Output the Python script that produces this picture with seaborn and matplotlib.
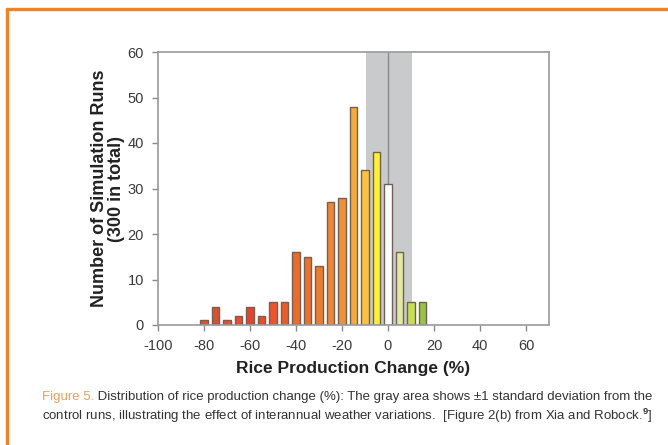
import pandas as pd
import matplotlib.pyplot as plt
import seaborn as sns
from matplotlib.lines import Line2D

# bin centres (%) and counts
change = [-80, -75, -70, -65, -60, -55, -50, -45, -40, -35, -30, -25,
          -20, -15, -10, -5, 0, 5, 10, 15]
runs = [1, 4, 1, 2, 4, 2, 5, 5, 16, 15, 13, 27, 28, 48, 34, 38, 31, 16, 5, 5]
bar_colors = ['#e4502c', '#dc4f2e', '#e84e2a', '#ee4c28', '#e8432a', '#f04a22',
              '#f0522a', '#f15a26', '#f06a25', '#f07028', '#f27a28', '#f38530',
              '#f59030', '#f9aa32', '#fcc23e', '#fff22a', '#ffffff', '#e2eaa0',
              '#c8e050', '#9cc242']
std_lo, std_hi = -9.5, 10.4
xticks = [-100, -80, -60, -40, -20, 0, 20, 40, 60]
yticks = [0, 10, 20, 30, 40, 50, 60]

sns.set_style('white')
plt.rcParams['font.family'] = ['Liberation Sans', 'DejaVu Sans']
plt.rcParams['axes.unicode_minus'] = False
plt.rcParams['xtick.bottom'] = True
plt.rcParams['ytick.left'] = True
plt.rcParams['mathtext.fontset'] = 'custom'
plt.rcParams['mathtext.rm'] = 'Liberation Sans'
plt.rcParams['mathtext.bf'] = 'Liberation Sans:bold'

df = pd.DataFrame({'change': change, 'runs': runs,
                   'bin': [str(c) for c in change]})
pal = dict(zip(df['bin'], bar_colors))

fig = plt.figure(figsize=(6.68, 4.45), dpi=100)
ax = fig.add_axes([158 / 668, 1 - 325 / 445, (549 - 158) / 668, (325 - 52) / 445])

ax.axvspan(std_lo, std_hi, color='#c9cacc', zorder=0, lw=0)
ax.axvline(0, color='#8a8a8a', lw=1, zorder=0.5)

sns.barplot(data=df, x='change', y='runs', hue='bin', palette=pal,
            native_scale=True, dodge=False, width=0.66, saturation=1,
            edgecolor='#6e6258', linewidth=1, legend=False, ax=ax, zorder=2)

ax.set_xlim(-100, 70)
ax.set_ylim(0, 60)
ax.set_xticks(xticks)
ax.set_yticks(yticks)
ax.tick_params(axis='both', direction='out', length=4, width=1,
               color='#8a8a8a', labelcolor='#3a3a3a', labelsize=10.5)
ax.tick_params(axis='x', bottom=True, pad=6)
ax.tick_params(axis='y', left=True, pad=6)
for s in ax.spines.values():
    s.set_color('#9a9a9a')
    s.set_linewidth(1.2)

ax.set_xlabel('Rice Production Change (%)', fontsize=12.5, fontweight='bold',
              color='#222222', labelpad=6)
ax.set_ylabel('Number of Simulation Runs\n(300 in total)', fontsize=13,
              fontweight='bold', color='#222222', labelpad=2, linespacing=1.0)

# orange frame
orange = '#f58220'
fig.add_artist(Line2D([7 / 668, 1], [1 - 9 / 445, 1 - 9 / 445],
                      transform=fig.transFigure, color=orange, lw=2.4))
fig.add_artist(Line2D([7 / 668, 7 / 668], [0, 1 - 9 / 445],
                      transform=fig.transFigure, color=orange, lw=2.4))

# caption
fs = 9.5
t1 = fig.text(42 / 668, 1 - 397 / 445, 'Figure 5.', color='#e8a060',
              fontsize=fs, va='center')
ax.annotate(' Distribution of rice production change (%): The gray area shows '
            '\u00b11 standard deviation from the',
            xycoords=t1, xy=(1, 0), va='bottom', ha='left', fontsize=fs,
            color='#333333', annotation_clip=False)
fig.text(42 / 668, 1 - 416 / 445,
         'control runs, illustrating the effect of interannual weather '
         'variations.  [Figure 2(b) from Xia and Robock.$^{\\mathbf{9}}$]',
         color='#333333', fontsize=fs, va='center')

fig.savefig('out.png', dpi=100)
